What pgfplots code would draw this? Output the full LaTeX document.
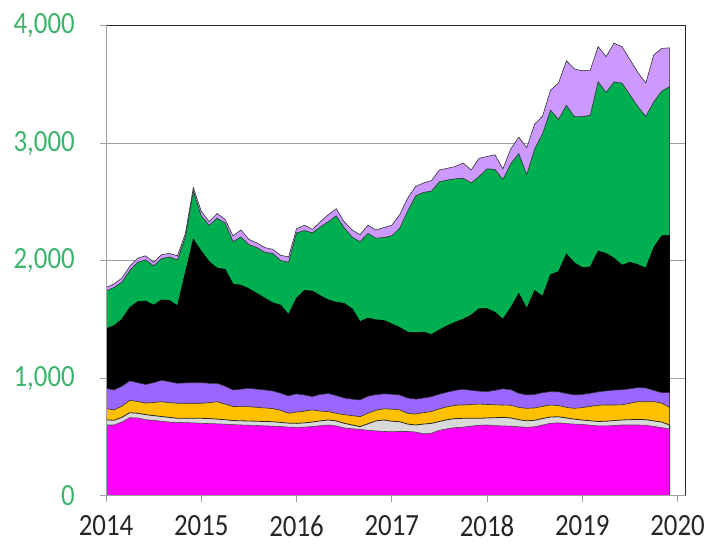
\documentclass[border=0pt]{standalone}
\usepackage{fontspec}
\setmainfont{Carlito}[FakeStretch=0.87]
\usepackage{pgfplots}
\pgfplotsset{compat=1.18}
\usepackage{pgfplotstable}
\definecolor{cmag}{HTML}{FF00FF}
\definecolor{cgray}{HTML}{D9D9D9}
\definecolor{corange}{HTML}{FFC000}
\definecolor{cpurple}{HTML}{9966FF}
\definecolor{cgreen}{HTML}{00B050}
\definecolor{cltpurple}{HTML}{CC99FF}
\definecolor{gridgray}{HTML}{A0A0A0}
\definecolor{labgreen}{HTML}{3CB46E}

\pgfplotstableread{
i T N K P O G M
0 1770 1740 1420 912 740 645 600
1 1800 1770 1445 898 728 640 600
2 1850 1815 1500 930 760 665 625
3 1950 1915 1600 975 810 705 662
4 2020 1985 1650 960 800 700 660
5 2040 2005 1655 945 787 688 645
6 1985 1955 1620 960 792 680 640
7 2050 2015 1665 980 798 672 632
8 2060 2030 1660 968 790 665 625
9 2040 2005 1615 955 785 657 622
10 2230 2200 1900 958 785 657 620
11 2620 2590 2180 960 785 657 618
12 2420 2380 2080 960 785 657 614
13 2330 2300 1990 955 790 655 612
14 2400 2360 1935 955 798 650 610
15 2350 2320 1925 930 778 645 607
16 2210 2160 1800 898 758 638 603
17 2260 2200 1790 905 756 636 600
18 2180 2135 1760 912 756 634 598
19 2150 2110 1720 905 750 632 596
20 2110 2070 1680 898 745 630 593
21 2095 2060 1640 890 740 628 590
22 2045 2000 1620 870 725 622 587
23 2030 1985 1540 848 700 616 582
24 2270 2235 1680 865 710 614 580
25 2300 2255 1745 855 718 618 582
26 2265 2235 1740 842 728 625 587
27 2330 2285 1700 860 718 635 594
28 2390 2330 1665 868 714 643 600
29 2440 2380 1645 850 700 635 592
30 2330 2280 1635 830 688 615 575
31 2260 2200 1590 820 680 600 568
32 2220 2160 1480 813 671 586 563
33 2300 2230 1510 845 700 610 555
34 2260 2190 1495 858 725 635 550
35 2280 2195 1490 865 738 643 545
36 2300 2210 1460 862 735 632 543
37 2390 2275 1430 855 728 628 545
38 2530 2420 1390 830 700 608 545
39 2630 2550 1385 820 693 600 540
40 2660 2580 1390 830 705 608 525
41 2680 2590 1370 841 714 614 530
42 2770 2670 1410 862 738 630 555
43 2785 2685 1445 880 755 645 568
44 2800 2695 1475 895 768 655 578
45 2830 2700 1500 904 770 657 582
46 2770 2660 1535 895 775 657 590
47 2870 2715 1590 888 778 657 598
48 2885 2780 1590 884 775 660 600
49 2900 2775 1560 895 772 662 595
50 2780 2690 1500 908 770 665 592
51 2950 2825 1600 900 768 660 590
52 3050 2910 1720 870 750 645 585
53 2960 2730 1590 856 742 636 580
54 3160 2950 1745 860 745 640 585
55 3230 3080 1695 875 758 655 600
56 3450 3280 1880 884 770 668 615
57 3510 3200 1905 882 765 670 618
58 3700 3320 2055 868 750 660 612
59 3630 3225 1980 856 742 650 608
60 3615 3225 1940 860 748 642 605
61 3620 3235 1945 870 758 636 598
62 3820 3520 2080 882 768 630 592
63 3735 3430 2060 890 770 632 592
64 3850 3520 2020 897 770 638 596
65 3820 3510 1960 900 772 643 600
66 3710 3410 1985 908 785 645 600
67 3600 3310 1965 918 798 648 600
68 3510 3225 1935 915 798 645 598
69 3750 3350 2110 895 799 635 588
70 3805 3440 2210 875 785 625 578
71 3810 3480 2215 875 750 600 565
}\data

\begin{document}
\begin{tikzpicture}
\begin{axis}[
  name=ax,
  scale only axis,
  width=579.5bp, height=470bp,
  xmin=0, xmax=73, ymin=0, ymax=4000,
  xtick={0,12,24,36,48,60,72},
  xticklabels={2014,2015,2016,2017,2018,2019,2020},
  ytick={0,1000,2000,3000,4000},
  yticklabels={0,{1,000},{2,000},{3,000},{4,000}},
  ymajorgrids,
  grid style={color=gridgray, line width=0.8bp},
  axis line style={draw=black!85, line width=0.8bp},
  tick align=outside,
  xtick pos=left, ytick pos=left,
  major tick length=6bp,
  tick style={color=gridgray, line width=0.8bp},
  ticklabel style={font=\fontsize{31}{36}\selectfont, inner sep=0pt},
  yticklabel style={text=labgreen, xshift=-25bp},
  xticklabel style={text=black!85, yshift=-14bp},
]
\addplot[fill=cltpurple, draw=black!80, line width=0.6bp] table[x=i,y=T]{\data} \closedcycle;
\addplot[fill=cgreen, draw=black!80, line width=0.6bp] table[x=i,y=N]{\data} \closedcycle;
\addplot[fill=black, draw=black, line width=0.6bp] table[x=i,y=K]{\data} \closedcycle;
\addplot[fill=cpurple, draw=black!80, line width=0.6bp] table[x=i,y=P]{\data} \closedcycle;
\addplot[fill=corange, draw=black!80, line width=0.6bp] table[x=i,y=O]{\data} \closedcycle;
\addplot[fill=cgray, draw=black!85, line width=0.8bp] table[x=i,y=G]{\data} \closedcycle;
\addplot[fill=cmag, draw=black!70, line width=0.6bp] table[x=i,y=M]{\data} \closedcycle;
\draw[gridgray, line width=0.8bp] (rel axis cs:0,0) -- (rel axis cs:0,1);
\draw[gridgray, line width=0.8bp] (rel axis cs:0,0) -- (rel axis cs:1,0);
\end{axis}
\pgfresetboundingbox
\path[use as bounding box] ([shift={(-106bp,-50.5bp)}]ax.south west) rectangle ([shift={(26.5bp,25.5bp)}]ax.north east);
\end{tikzpicture}
\end{document}
